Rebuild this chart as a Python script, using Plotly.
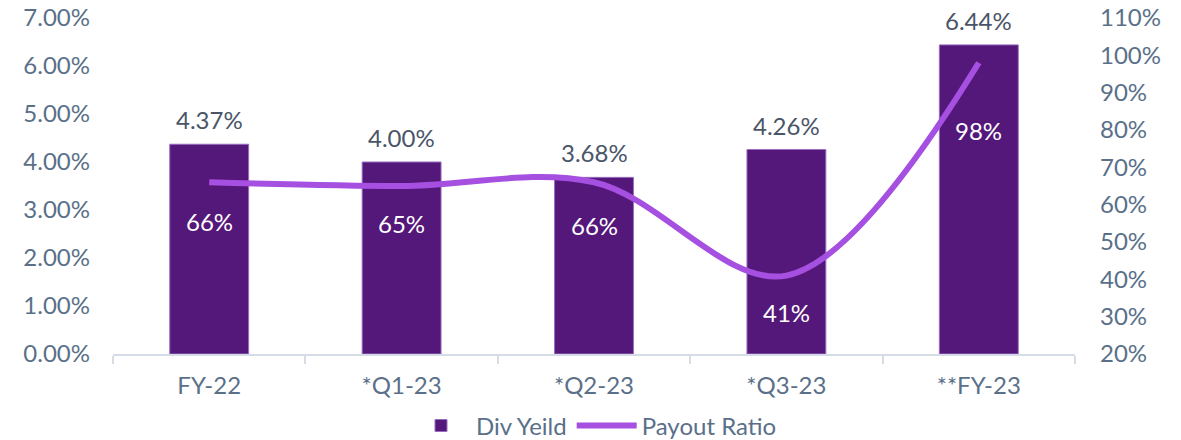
import plotly.graph_objects as go

categories = ['FY-22', '*Q1-23', '*Q2-23', '*Q3-23', '**FY-23']
div_yield = [4.37, 4.00, 3.68, 4.26, 6.44]          # percent
payout_ratio = [0.66, 0.65, 0.66, 0.41, 0.98]       # fraction
payout_labels = ['66%', '65%', '66%', '41%', '98%']
label_shift = [-39, -37, -43, -37, -68]             # px below the line point

bar_color = '#54177a'
line_color = '#a550e0'
tick_color = '#5a7089'
font_family = 'Lato, Noto Sans, sans-serif'
fsize = 24

fig = go.Figure()

fig.add_trace(go.Bar(
    x=categories, y=div_yield, name='Div Yeild',
    marker_color=bar_color, marker_line=dict(color='#9a6cc0', width=1),
    width=0.41,
))

fig.add_trace(go.Scatter(
    x=categories, y=payout_ratio, name='Payout Ratio', yaxis='y2',
    mode='lines', line=dict(color=line_color, width=6, shape='spline', smoothing=1),
))

# div yield labels above the bars
for cat, val in zip(categories, div_yield):
    fig.add_annotation(x=cat, y=val, text=f'{val:.2f}%', showarrow=False,
                       yanchor='bottom', yshift=8,
                       font=dict(color='#4a5568', size=fsize, family=font_family))

# payout ratio labels sit inside the bars, below the line
for cat, val, lab, dy in zip(categories, payout_ratio, payout_labels, label_shift):
    fig.add_annotation(x=cat, y=val, yref='y2', text=lab, showarrow=False,
                       yshift=dy, font=dict(color='white', size=fsize, family=font_family))

# page body adds an 8px margin, so the figure is 8px smaller and shifted
fig.update_layout(
    width=1173, height=432,
    margin=dict(l=105, r=106, t=10, b=86, autoexpand=False),
    plot_bgcolor='white', paper_bgcolor='white',
    font=dict(family=font_family, size=fsize, color=tick_color),
    showlegend=True,
    legend=dict(orientation='h', x=0.5, xanchor='center', y=-0.214, yanchor='middle',
                font=dict(size=fsize, color=tick_color), itemwidth=60,
                traceorder='normal'),
    xaxis=dict(showline=True, linecolor='#d6dce5', linewidth=2,
               ticks='outside', tickson='boundaries', ticklen=8, tickcolor='#d6dce5',
               tickwidth=2, showgrid=False, ticklabelstandoff=9, automargin=False),
    yaxis=dict(range=[0, 7], dtick=1, tickformat='.2f', ticksuffix='%',
               showgrid=False, zeroline=False, ticklabelstandoff=22, automargin=False,
               ticklabeloverflow='allow'),
    yaxis2=dict(range=[0.2, 1.1], dtick=0.1, tickformat='.0%', overlaying='y', side='right',
                showgrid=False, zeroline=False, ticklabelstandoff=24, automargin=False,
                ticklabeloverflow='allow'),
    bargap=0.59,
)

fig.write_html('out.html')
